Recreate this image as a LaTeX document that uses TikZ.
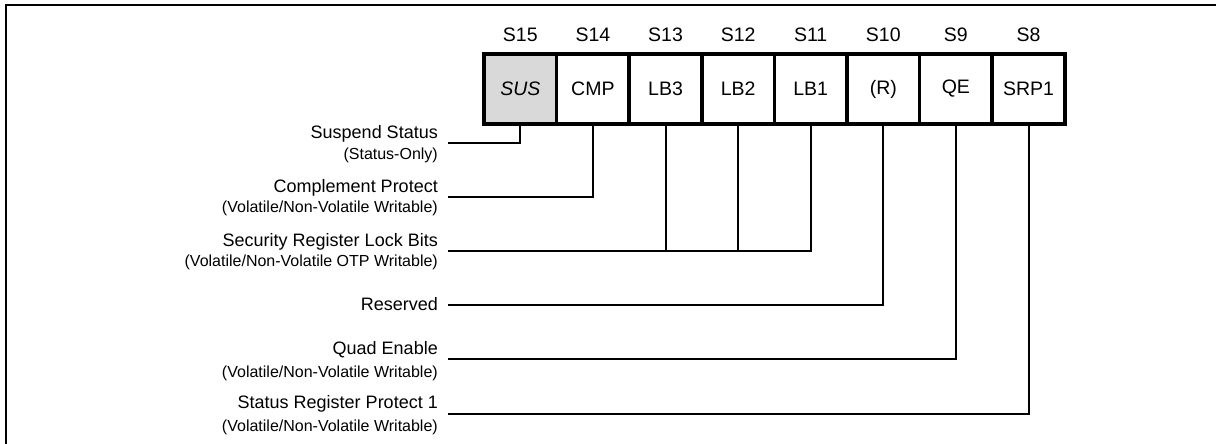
\documentclass[tikz,border=0pt]{standalone}
\usepackage{fontspec}
\setmainfont{Liberation Sans}
\begin{document}
\begin{tikzpicture}[x=1pt,y=-1pt,
  cell/.style={draw, line width=3.5pt, minimum width=72.6pt, minimum height=70pt, inner sep=0pt, font=\fontsize{19.5}{22}\selectfont},
  bitlbl/.style={font=\fontsize{19.5}{22}\selectfont, inner sep=0pt},
  mainlbl/.style={anchor=base east, inner sep=0pt, font=\fontsize{18}{20}\selectfont},
  sublbl/.style={anchor=base east, inner sep=0pt, font=\fontsize{16}{18}\selectfont},
  conn/.style={line width=2pt, line join=miter},
  frameline/.style={line width=2pt}]
\useasboundingbox (0,0) rectangle (1216,444);
\draw[frameline] (6,444) -- (6,5) -- (1216,5);
% bit names
\node[bitlbl] (t15) at (520.3,35) {S15};
\node[bitlbl] (t14) at (592.9,35) {S14};
\node[bitlbl] (t13) at (665.5,35) {S13};
\node[bitlbl] (t12) at (738.1,35) {S12};
\node[bitlbl] (t11) at (810.7,35) {S11};
\node[bitlbl] (t10) at (883.3,35) {S10};
\node[bitlbl] (t9) at (955.9,35) {S9};
\node[bitlbl] (t8) at (1028.5,35) {S8};
% cells
\node[cell, fill={rgb,255:red,217;green,217;blue,217}] (c15) at (520.3,89) {\itshape SUS};
\node[cell] (c14) at (592.9,89) {CMP};
\node[cell] (c13) at (665.5,89) {LB3};
\node[cell] (c12) at (738.1,89) {LB2};
\node[cell] (c11) at (810.7,89) {LB1};
\node[cell] (c10) at (883.3,89) {(R)};
\node[cell] (c9) at (955.9,89) {QE};
\node[cell] (c8) at (1028.5,89) {SRP1};
% labels
\node[mainlbl] (l15) at (438,139) {Suspend Status};
\node[sublbl] (s15) at (438,159.3) {(Status-Only)};
\node[mainlbl] (l14) at (438,192.7) {Complement Protect};
\node[sublbl] (s14) at (438,212.7) {(Volatile/Non-Volatile Writable)};
\node[mainlbl] (llb) at (438,246.5) {Security Register Lock Bits};
\node[sublbl] (slb) at (438,266.7) {(Volatile/Non-Volatile OTP Writable)};
\node[mainlbl] (l10) at (438,310.5) {Reserved};
\node[mainlbl] (l9) at (438,354.3) {Quad Enable};
\node[sublbl] (s9) at (438,377) {(Volatile/Non-Volatile Writable)};
\node[mainlbl] (l8) at (438,408.5) {Status Register Protect 1};
\node[sublbl] (s8) at (438,431.5) {(Volatile/Non-Volatile Writable)};
% connector ends
\coordinate (e15) at (448,142.7);
\coordinate (e14) at (448,197);
\coordinate (elb) at (448,251);
\coordinate (e10) at (448,305);
\coordinate (e9) at (448,359.3);
\coordinate (e8) at (448,413.7);
% connectors
\draw[conn] (c15.south) |- (e15);
\draw[conn] (c14.south) |- (e14);
\draw[conn] (c11.south) |- (elb);
\draw[conn] (c13.south) -- (c13.south |- elb);
\draw[conn] (c12.south) -- (c12.south |- elb);
\draw[conn] (c10.south) |- (e10);
\draw[conn] (c9.south) |- (e9);
\draw[conn] (c8.south) |- (e8);
\end{tikzpicture}
\end{document}
